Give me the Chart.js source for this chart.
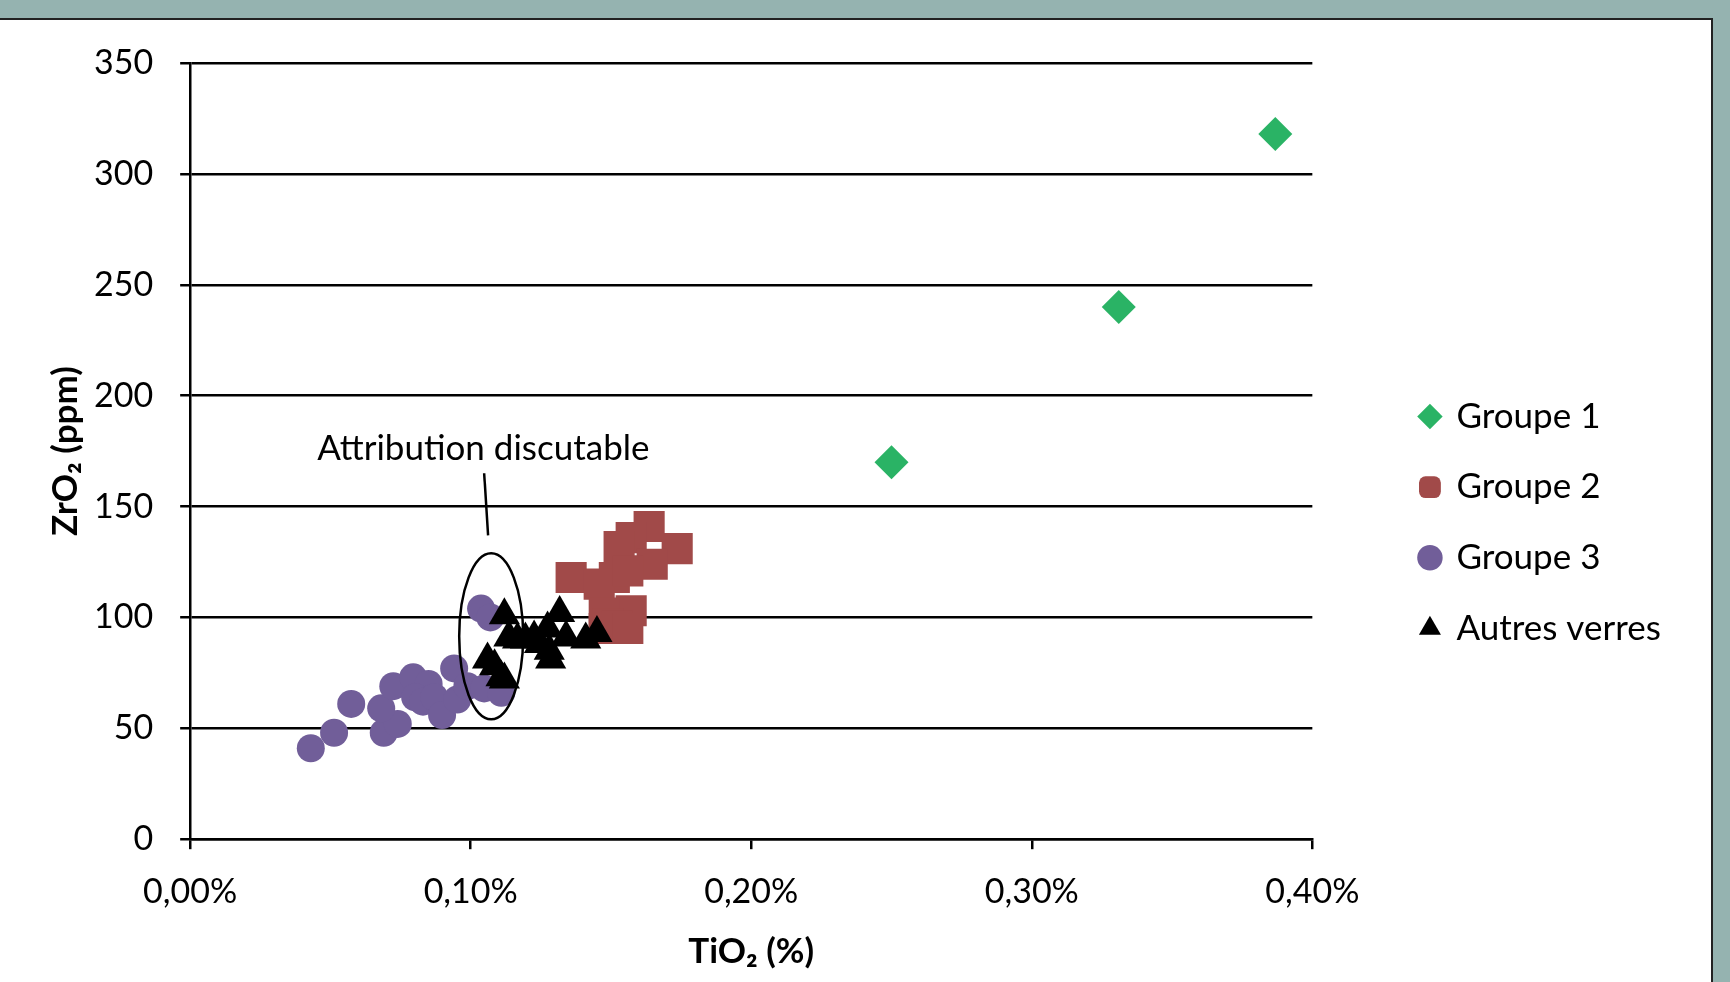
<!DOCTYPE html>
<html>
<head>
<meta charset="utf-8">
<script src="https://cdn.jsdelivr.net/npm/chart.js@4.4.1/dist/chart.umd.min.js"></script>
<style>
  html, body { margin: 0; padding: 0; }
  body { width: 1730px; height: 982px; background: #95b3b0; position: relative; overflow: hidden; }
  .panneau { position: absolute; left: 0; top: 18px; width: 1713px; height: 964px; background: #fff;
    border-top: 2px solid #222; border-right: 2px solid #222; box-sizing: border-box; }
  #graficoZr { position: absolute; left: 0; top: 0; }
</style>
</head>
<body>
<div class="panneau"></div>
<canvas id="graficoZr" width="1730" height="982"></canvas>
<script>
// valeurs : TiO2 en %, ZrO2 en ppm
var groupe1TiO2 = [0.2500, 0.3310, 0.3868];
var groupe1ZrO2 = [170, 240, 318];

var groupe2TiO2 = [0.1636, 0.1572, 0.1529, 0.1736, 0.1647, 0.1358, 0.1512, 0.1458, 0.1560, 0.1572, 0.1476, 0.1490, 0.1520, 0.1476, 0.1560];
var groupe2ZrO2 = [141, 136, 132, 131, 124, 118, 118, 115, 121, 103, 102, 97, 96, 95, 95];

var groupe3TiO2 = [0.0430, 0.0513, 0.0574, 0.0690, 0.0740, 0.0681, 0.0724, 0.0795, 0.0850, 0.0802, 0.0830, 0.0870, 0.0898, 0.0941, 0.0952, 0.0988, 0.1048, 0.1109, 0.1037, 0.1070];
var groupe3ZrO2 = [41, 48, 61, 48, 52, 59, 69, 73, 70, 64, 62, 64, 56, 77, 63, 69, 68, 66, 104, 100];

var autresTiO2 = [0.1120, 0.1060, 0.1085, 0.1108, 0.1120, 0.1136, 0.1167, 0.1195, 0.1226, 0.1245, 0.1274, 0.1317, 0.1285, 0.1280, 0.1340, 0.1410, 0.1450];
var autresZrO2 = [101, 81, 78, 73, 72, 91, 90, 90, 91, 88, 95, 102, 81, 85, 91, 90, 93];

var seriesNoms = ['Groupe 1', 'Groupe 2', 'Groupe 3', 'Autres verres'];
var ticksX = [0, 0.1, 0.2, 0.3, 0.4];
var ticksY = [0, 50, 100, 150, 200, 250, 300, 350];

// annotation "Attribution discutable" (unités des axes)
var noteTexte = 'Attribution discutable';
var noteTexteXY = [0.1045, 176];
var noteTrait = [[0.1048, 165], [0.1062, 137]];
var noteEllipse = { x: 0.1073, y: 91.5, rx: 0.0114, ry: 37.4 };

function pontos(xs, ys) {
	return xs.map(function(x, i) { return { x: x, y: ys[i] }; });
}

var police = 'Lato, "Open Sans", sans-serif';

// la légende coupe la fin du dernier libellé : on lui laisse un peu de marge
if (Chart.Legend && Chart.Legend._element) {
	var fitLegende = Chart.Legend._element.prototype.fit;
	Chart.Legend._element.prototype.fit = function() {
		fitLegende.apply(this, arguments);
		if (!this.isHorizontal()) this.width += 20;
	};
}

var annotation = {
	id: 'annotation',
	afterDatasetsDraw: function(chart) {
		var ctx = chart.ctx, sx = chart.scales.x, sy = chart.scales.y;
		ctx.save();
		ctx.strokeStyle = '#000';
		ctx.lineWidth = 2.5;
		ctx.beginPath();
		ctx.ellipse(sx.getPixelForValue(noteEllipse.x), sy.getPixelForValue(noteEllipse.y),
			Math.abs(sx.getPixelForValue(noteEllipse.x + noteEllipse.rx) - sx.getPixelForValue(noteEllipse.x)),
			Math.abs(sy.getPixelForValue(noteEllipse.y + noteEllipse.ry) - sy.getPixelForValue(noteEllipse.y)),
			0, 0, Math.PI * 2);
		ctx.stroke();
		ctx.beginPath();
		ctx.moveTo(sx.getPixelForValue(noteTrait[0][0]), sy.getPixelForValue(noteTrait[0][1]));
		ctx.lineTo(sx.getPixelForValue(noteTrait[1][0]), sy.getPixelForValue(noteTrait[1][1]));
		ctx.stroke();
		ctx.fillStyle = '#000';
		ctx.font = '35px ' + police;
		ctx.textAlign = 'center';
		ctx.textBaseline = 'middle';
		ctx.fillText(noteTexte, sx.getPixelForValue(noteTexteXY[0]), sy.getPixelForValue(noteTexteXY[1]));
		ctx.restore();
	}
};

var grafico = new Chart(document.getElementById('graficoZr').getContext('2d'), {
	type: 'scatter',
	data: {
		datasets: [{
			label: seriesNoms[0],
			data: pontos(groupe1TiO2, groupe1ZrO2),
			pointStyle: 'rectRot',
			pointRadius: 17,
			backgroundColor: '#2ab365',
			borderColor: '#2ab365',
			borderWidth: 0,
			order: 3
		},
		{
			label: seriesNoms[1],
			data: pontos(groupe2TiO2, groupe2ZrO2),
			pointStyle: 'rect',
			pointRadius: 22,
			backgroundColor: '#a14a49',
			borderColor: '#a14a49',
			borderWidth: 0,
			order: 2
		},
		{
			label: seriesNoms[2],
			data: pontos(groupe3TiO2, groupe3ZrO2),
			pointStyle: 'circle',
			pointRadius: 14,
			backgroundColor: '#715e99',
			borderColor: '#715e99',
			borderWidth: 0,
			order: 1
		},
		{
			label: seriesNoms[3],
			data: pontos(autresTiO2, autresZrO2),
			pointStyle: 'triangle',
			pointRadius: 18,
			backgroundColor: '#000',
			borderColor: '#000',
			borderWidth: 0,
			order: 0
		}]
	},
	options: {
		responsive: false,
		animation: false,
		devicePixelRatio: 1,
		layout: { padding: { left: 37, top: 63, right: 51, bottom: 0 } },
		plugins: {
			tooltip: { enabled: false },
			legend: {
				position: 'right',
				labels: {
					usePointStyle: true,
					boxWidth: 18,
					boxHeight: 18,
					padding: 35.6,
					color: '#000',
					font: { family: police, size: 35 },
					sort: function(a, b) { return a.datasetIndex - b.datasetIndex; },
					generateLabels: function(chart) {
						var itens = Chart.defaults.plugins.legend.labels.generateLabels(chart);
						itens.forEach(function(item) {
							if (item.datasetIndex === 1) item.pointStyle = 'rectRounded';
						});
						return itens;
					}
				}
			}
		},
		scales: {
			x: {
				type: 'linear',
				min: 0,
				max: 0.4,
				afterBuildTicks: function(s) { s.ticks = ticksX.map(function(v) { return { value: v }; }); },
				ticks: {
					color: '#000',
					padding: 22,
					font: { family: police, size: 34 },
					callback: function(v) { return v.toFixed(2).replace('.', ',') + '%'; }
				},
				grid: { drawOnChartArea: false, drawTicks: true, tickLength: 10, color: '#000', lineWidth: 2.5 },
				border: { color: '#000', width: 2.5 },
				title: {
					display: true,
					text: 'TiO₂ (%)',
					color: '#000',
					font: { family: police, size: 35, weight: 'bold' },
					padding: { top: -3, bottom: 9 }
				}
			},
			y: {
				type: 'linear',
				min: 0,
				max: 350,
				afterBuildTicks: function(s) { s.ticks = ticksY.map(function(v) { return { value: v }; }); },
				ticks: {
					color: '#000',
					padding: 27,
					font: { family: police, size: 34 }
				},
				grid: { color: '#000', lineWidth: 2.5, tickLength: 10 },
				border: { color: '#000', width: 2.5 },
				title: {
					display: true,
					text: 'ZrO₂ (ppm)',
					color: '#000',
					font: { family: police, size: 35, weight: 'bold' },
					padding: { top: 8, bottom: -20 }
				}
			},
			marge: {
				type: 'linear',
				position: 'right',
				display: true,
				ticks: { display: false },
				grid: { display: false, drawTicks: false },
				border: { display: false },
				afterFit: function(s) { s.width = 73; }
			}
		}
	},
	plugins: [annotation]
});
</script>
</body>
</html>
